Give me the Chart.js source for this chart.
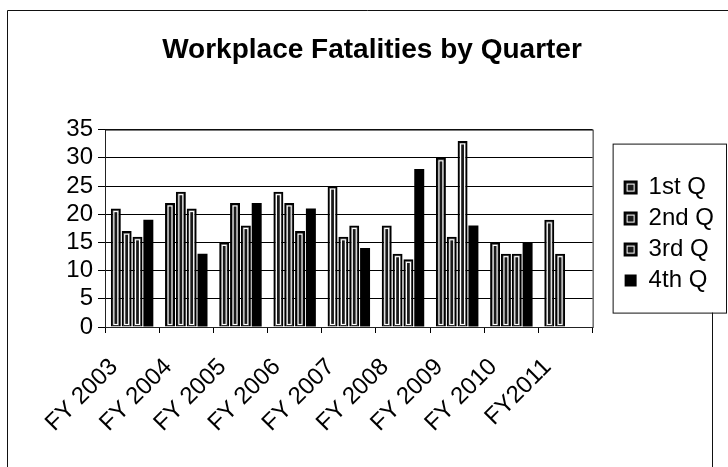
<!DOCTYPE html>
<html>
<head>
<meta charset="utf-8">
<script src="https://cdn.jsdelivr.net/npm/chart.js@4.4.0/dist/chart.umd.min.js"></script>
<style>
html,body{margin:0;padding:0;background:#fff;}
#wrap{width:728px;height:467px;position:relative;}
</style>
</head>
<body>
<div id="wrap"><canvas id="c" width="728" height="467"></canvas></div>
<script>
const categories = ['FY 2003','FY 2004','FY 2005','FY 2006','FY 2007','FY 2008','FY 2009','FY 2010','FY2011'];
const q1 = [21,22,15,24,25,18,30,15,19];
const q2 = [17,24,22,22,16,13,16,13,13];
const q3 = [16,21,18,17,18,12,33,13,null];
const q4 = [19,13,22,21,14,28,18,15,null];
const seriesNames = ['1st Q','2nd Q','3rd Q','4th Q'];
const yTicks = [0,5,10,15,20,25,30,35];

const FONT = "'Liberation Sans', Arial, sans-serif";

const decor = {
  id: 'decor',
  beforeDraw(chart) {
    const {ctx, width, height} = chart;
    ctx.save();
    ctx.fillStyle = '#fff';
    ctx.fillRect(0, 0, width, height);
    ctx.restore();
  },
  afterLayout(chart) {
    const lg = chart.legend;
    if (!lg) return;
    const a = chart.chartArea;
    const dx = 25;
    lg.left += dx; lg.right += dx;
    lg.top = a.top + 39;
  },
  beforeDatasetsDraw(chart) {
    const {ctx, chartArea: a} = chart;
    ctx.save();
    ctx.strokeStyle = '#222';
    ctx.lineWidth = 1;
    ctx.strokeRect(a.left + 0.5, a.top + 0.5, a.right - a.left, a.bottom - a.top);
    ctx.restore();
  },
  afterDatasetsDraw(chart) {
    const ctx = chart.ctx;
    ctx.save();
    ctx.strokeStyle = '#fff';
    ctx.lineWidth = 1.2;
    for (let d = 0; d < 3; d++) {
      const meta = chart.getDatasetMeta(d);
      meta.data.forEach((el, i) => {
        if (chart.data.datasets[d].data[i] == null) return;
        const p = el.getProps(['x','y','base','width'], true);
        const l = p.x - p.width / 2 + 3, r = p.x + p.width / 2 - 3;
        const t = p.y + 3, b = p.base - 2;
        if (r > l && b > t) ctx.strokeRect(l, t, r - l, b - t);
      });
    }
    ctx.restore();
  },
  afterDraw(chart) {
    const {ctx, width, height} = chart;
    const lg = chart.legend;
    ctx.save();
    ctx.strokeStyle = '#111';
    ctx.lineWidth = 1;
    ctx.beginPath();
    ctx.moveTo(7.5, height);
    ctx.lineTo(7.5, 10.5);
    ctx.lineTo(width, 10.5);
    ctx.stroke();
    if (lg && lg.legendHitBoxes && lg.legendHitBoxes.length) {
      const hb = lg.legendHitBoxes;
      const last = hb[hb.length - 1];
      const top = hb[0].top - 32;
      const bottom = last.top + last.height + 20;
      const left = hb[0].left - 12;
      const right = width - 1;
      ctx.beginPath();
      ctx.moveTo(width - 15.5, bottom);
      ctx.lineTo(width - 15.5, height);
      ctx.stroke();
      ctx.strokeRect(left + 0.5, top + 0.5, right - left - 1, bottom - top);
      ctx.strokeStyle = '#fff';
      ctx.lineWidth = 1;
      const bh = 12;
      for (let i = 0; i < 3; i++) {
        const h = hb[i];
        const by = h.top + (h.height - bh) / 2;
        ctx.strokeRect(h.left + 2.5, by + 2.5, bh - 5, bh - 5);
      }
    }
    ctx.restore();
  }
};

new Chart(document.getElementById('c'), {
  type: 'bar',
  data: {
    labels: categories,
    datasets: [
      {label: seriesNames[0], data: q1, backgroundColor: '#1a1a1a', borderColor: '#000', borderWidth: 2},
      {label: seriesNames[1], data: q2, backgroundColor: '#1a1a1a', borderColor: '#000', borderWidth: 2},
      {label: seriesNames[2], data: q3, backgroundColor: '#1a1a1a', borderColor: '#000', borderWidth: 2},
      {label: seriesNames[3], data: q4, backgroundColor: '#000', borderColor: '#000', borderWidth: 0}
    ]
  },
  options: {
    responsive: false,
    animation: false,
    devicePixelRatio: 1,
    layout: {padding: {left: 45, right: 29, top: 10, bottom: 0}},
    datasets: {bar: {categoryPercentage: 0.8, barPercentage: 0.92}},
    plugins: {
      title: {
        display: true,
        text: 'Workplace Fatalities by Quarter',
        color: '#000',
        font: {family: FONT, size: 28, weight: 'bold'},
        padding: {top: 23, bottom: 63}
      },
      legend: {
        position: 'right',
        align: 'start',
        labels: {
          color: '#000',
          font: {family: FONT, size: 24},
          boxWidth: 12,
          boxHeight: 12,
          padding: 7
        }
      },
      tooltip: {enabled: false}
    },
    scales: {
      x: {
        offset: true,
        afterFit(s) { s.height = 140; },
        grid: {display: true, drawOnChartArea: false, drawTicks: true, tickLength: 6, color: '#000', offset: true},
        border: {display: true, color: '#000', width: 1},
        ticks: {color: '#000', font: {family: FONT, size: 24}, maxRotation: 45, minRotation: 45, padding: 20, labelOffset: -18, autoSkip: false}
      },
      y: {
        min: 0, max: 35,
        afterBuildTicks(s) { s.ticks = yTicks.map(v => ({value: v})); },
        afterFit(s) { s.width = 60; },
        grid: {color: '#000', lineWidth: 1, tickLength: 7},
        border: {display: true, color: '#000', width: 1},
        ticks: {color: '#000', font: {family: FONT, size: 24}, padding: 5, stepSize: 5, autoSkip: false}
      }
    }
  },
  plugins: [decor]
});
</script>
</body>
</html>
